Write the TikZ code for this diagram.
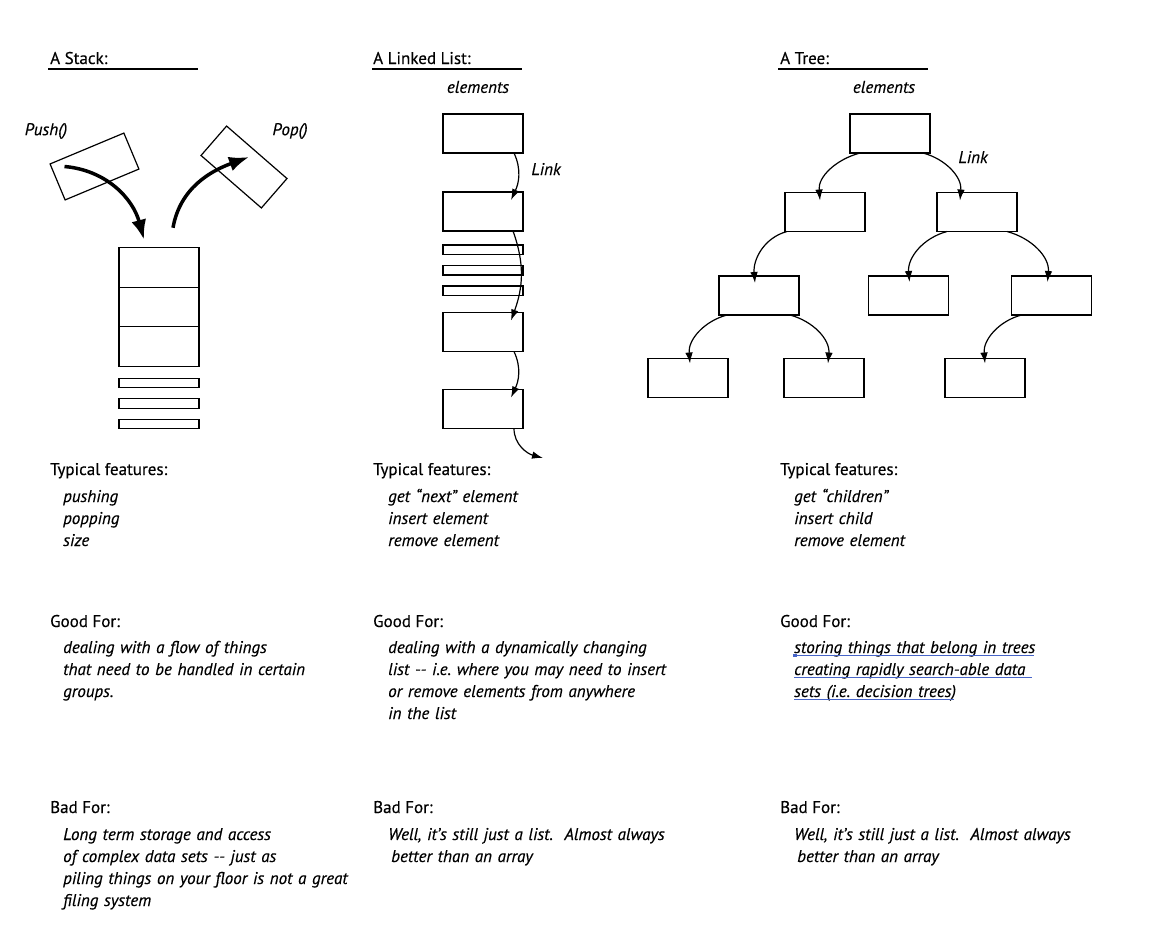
\documentclass[tikz,border=0pt]{standalone}
\usepackage{fontspec}
\setmainfont{PT Sans}[FakeBold=0.3]
\usepackage{xcolor}
\usetikzlibrary{arrows.meta, positioning}
\definecolor{spellblue}{RGB}{70,100,200}

\tikzset{
  cell/.style={draw, line width=1.4pt, minimum width=80pt, minimum height=39pt, inner sep=0pt, outer sep=0pt},
  slot/.style={draw, line width=1.4pt, minimum width=80pt, minimum height=9.5pt, inner sep=0pt, outer sep=0pt},
  link/.style={line width=1.2pt, -{Latex[length=11pt,width=7.5pt]}},
  heavy/.style={line width=3.5pt, -{Latex[length=20pt,width=15pt]}},
  head/.style={anchor=base west, font=\fontsize{17}{22}\selectfont, inner sep=0pt},
  body/.style={anchor=base west, font=\fontsize{17}{22}\selectfont\itshape, inner sep=0pt, text width=330pt, align=left},
  note/.style={font=\fontsize{17}{22}\selectfont\itshape, inner sep=0pt},
  spell/.style={spellblue, line width=0.9pt},
}

\begin{document}
\frenchspacing
\begin{tikzpicture}[x=1pt, y=1pt]
  \useasboundingbox (0,0) rectangle (1160,-935);

  % titles
  \node[head] (tstack) at (50,-64) {A Stack:};
  \node[head] (tlist) at (373,-64) {A Linked List:};
  \node[head] (ttree) at (780,-64) {A Tree:};
  \draw[line width=1.5pt] ([xshift=-2pt,yshift=-5pt]tstack.base west) -- ++(150,0);
  \draw[line width=1.5pt] ([xshift=-1pt,yshift=-5pt]tlist.base west) -- ++(150,0);
  \draw[line width=1.5pt] ([xshift=-2pt,yshift=-5pt]ttree.base west) -- ++(150,0);

  % stack
  \node[note] (pushlbl) at (46,-131) {Push()};
  \node[note] (poplbl) at (290,-131) {Pop()};
  \node[cell, line width=1.2pt, rotate=22.7] (pushcard) at (94.5,-166.5) {};
  \node[cell, line width=1.2pt, rotate=-41] (popcard) at (244,-167) {};
  \node[cell, minimum height=39.5pt] (s1) at (159,-267.5) {};
  \node[cell, minimum height=39.5pt, below=0pt of s1] (s2) {};
  \node[cell, minimum height=39.5pt, below=0pt of s2] (s3) {};
  \node[slot, below=12pt of s3] (sb1) {};
  \node[slot, below=11pt of sb1] (sb2) {};
  \node[slot, below=11pt of sb2] (sb3) {};
  \draw[heavy] ([xshift=-30pt]pushcard.center) to[out=-5,in=105] ([xshift=-15pt,yshift=8pt]s1.north);
  \draw[heavy] ([xshift=14pt,yshift=20pt]s1.north) to[out=80,in=200] ([shift={(5pt,10pt)}]popcard.center);

  % linked list
  \node[note] (lelem) at (478,-87) {elements};
  \node[cell] (l1) at (483,-133.5) {};
  \node[cell, below=39pt of l1] (l2) {};
  \node[slot, below=14pt of l2] (lb1) {};
  \node[slot, below=11pt of lb1] (lb2) {};
  \node[slot, below=11pt of lb2] (lb3) {};
  \node[cell, below=17pt of lb3] (l3) {};
  \node[cell, below=38pt of l3] (l4) {};
  \node[note] (llink) at (546,-169) {Link};
  \coordinate (ltail) at (543,-458);
  \draw[link] ([xshift=-9pt]l1.south east) to[out=-65,in=65] ([xshift=-12pt,yshift=-8pt]l2.north east);
  \draw[link] ([xshift=-10pt]l2.south east) to[out=-70,in=70] ([xshift=-12pt,yshift=-8pt]l3.north east);
  \draw[link] ([xshift=-9pt]l3.south east) to[out=-65,in=65] ([xshift=-12pt,yshift=-8pt]l4.north east);
  \draw[link] ([xshift=-9pt]l4.south east) to[out=-90,in=165] (ltail);

  % tree
  \node[note] (telem) at (884,-87) {elements};
  \node[cell] (root) at (890,-133.5) {};
  \node[cell] (tl) at (825,-212) {};
  \node[cell] (tr) at (977,-212) {};
  \node[cell] (ta) at (759,-295.5) {};
  \node[cell] (tb) at (908.5,-295.5) {};
  \node[cell] (tc) at (1051.5,-295.5) {};
  \node[cell] (td) at (688,-378) {};
  \node[cell] (te) at (824,-378) {};
  \node[cell] (tf) at (985,-378) {};
  \node[note] (tlink) at (973,-157) {Link};
  \draw[link] ([xshift=10pt]root.south west) to[out=195,in=95] ([xshift=-5pt,yshift=-8pt]tl.north);
  \draw[link] ([xshift=-7pt]root.south east) to[out=-15,in=85] ([xshift=-17pt,yshift=-8pt]tr.north);
  \draw[link] ([xshift=2pt]tl.south west) to[out=195,in=95] ([xshift=-4pt,yshift=-7pt]ta.north);
  \draw[link] ([xshift=10pt]tr.south west) to[out=195,in=95] ([xshift=1pt,yshift=-6pt]tb.north);
  \draw[link] ([xshift=-10pt]tr.south east) to[out=-15,in=85] ([xshift=-4pt,yshift=-6pt]tc.north);
  \draw[link] ([xshift=8pt]ta.south west) to[out=195,in=95] ([xshift=2pt,yshift=-5pt]td.north);
  \draw[link] ([xshift=-9pt]ta.south east) to[out=-15,in=85] ([xshift=4pt,yshift=-5pt]te.north);
  \draw[link] ([xshift=10pt]tc.south west) to[out=195,in=95] ([xshift=0pt,yshift=-5pt]tf.north);

  % stack text
  \node[head] (sfeat) at (50,-475) {Typical features:};
  \node[body] (sfeatx) at (63,-502) {pushing\\popping\\size};
  \node[head] (sgood) at (50,-627) {Good For:};
  \node[body] (sgoodx) at (63,-653) {dealing with a flow of things\\that need to be handled in certain\\groups.};
  \node[head] (sbad) at (50,-813) {Bad For:};
  \node[body] (sbadx) at (63,-840) {Long term storage and access\\of complex data sets -{}- just as\\piling things on your floor is not a great\\filing system};

  % list text
  \node[head] (lfeat) at (373,-475) {Typical features:};
  \node[body] (lfeatx) at (388,-502) {get “next” element\\insert element\\remove element};
  \node[head] (lgood) at (373,-627) {Good For:};
  \node[body] (lgoodx) at (388,-653) {dealing with a dynamically changing\\list -{}- i.e. where you may need to insert\\or remove elements from anywhere\\in the list};
  \node[head] (lbad) at (373,-813) {Bad For:};
  \node[body] (lbadx) at (388,-840) {Well, it’s still just a list.\ \ Almost always\\\hspace*{3pt}better than an array};

  % tree text
  \node[head] (tfeat) at (780,-475) {Typical features:};
  \node[body] (tfeatx) at (794,-502) {get “children”\\insert child\\remove element};
  \node[head] (tgood) at (780,-627) {Good For:};
  \node[body] (tgoodx) at (794,-653) {storing things that belong in trees\\creating rapidly search-able data\\sets (i.e. decision trees)};
  \node[head] (tbad) at (780,-813) {Bad For:};
  \node[body] (tbadx) at (794,-840) {Well, it’s still just a list.\ \ Almost always\\\hspace*{3pt}better than an array};
  \draw[spell] (794,-655.5) -- (1034,-655.5);
  \draw[spell] (794,-677.5) -- (1032,-677.5);
  \draw[spell] (794,-699.5) -- (954,-699.5);
  \fill[spellblue] (793,-654) rectangle (797,-657);
\end{tikzpicture}
\end{document}
